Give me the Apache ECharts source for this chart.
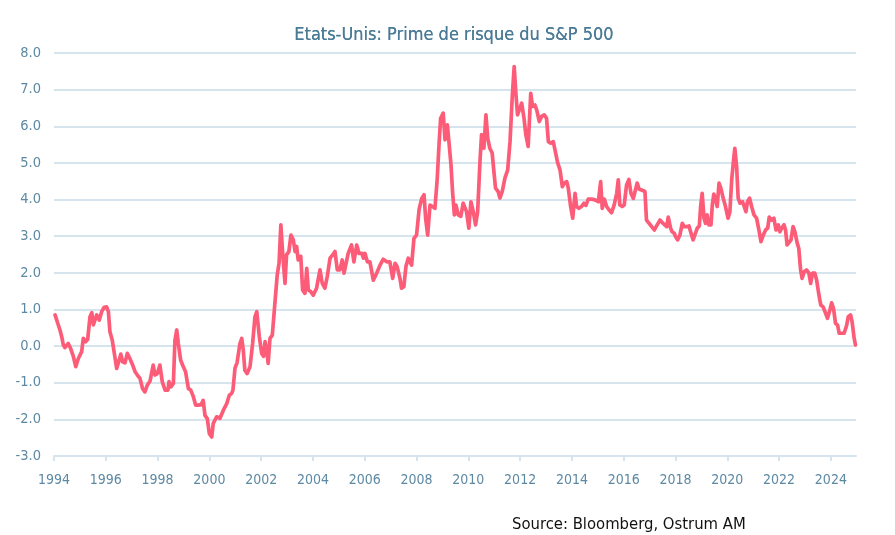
<!DOCTYPE html>
<html>
<head>
<meta charset="utf-8">
<script src="https://cdn.jsdelivr.net/npm/echarts@6/dist/echarts.min.js"></script>
<style>
html,body{margin:0;padding:0;background:#fff;}
#chart{width:895px;height:535px;}
</style>
</head>
<body>
<div id="chart"></div>
<script>
var titleText = "Etats-Unis: Prime de risque du S&P 500";
var sourceText = "Source: Bloomberg, Ostrum AM";
var yearTicks = [1994,1996,1998,2000,2002,2004,2006,2008,2010,2012,2014,2016,2018,2020,2022,2024];
var yTicks = [-3,-2,-1,0,1,2,3,4,5,6,7,8];

var dates = [
1994.04,1994.10,1994.17,1994.23,1994.30,1994.36,1994.42,1994.55,1994.64,1994.75,1994.84,1994.94,
1995.07,1995.13,1995.22,1995.30,1995.39,1995.46,1995.52,1995.65,1995.75,1995.84,1995.94,
1996.03,1996.10,1996.16,1996.25,1996.33,1996.42,1996.48,1996.58,1996.65,1996.74,1996.83,1996.93,
1997.04,1997.13,1997.22,1997.32,1997.42,1997.51,1997.60,1997.71,1997.77,1997.83,1997.90,1997.99,
1998.09,1998.18,1998.29,1998.40,1998.44,1998.52,1998.61,1998.67,1998.74,1998.80,1998.89,1998.99,
1999.08,1999.19,1999.28,1999.38,1999.47,1999.57,1999.68,1999.76,1999.83,1999.92,
2000.00,2000.09,2000.15,2000.28,2000.41,2000.54,2000.67,2000.77,2000.86,2000.91,2000.99,
2001.07,2001.12,2001.18,2001.25,2001.31,2001.37,2001.46,2001.57,2001.67,2001.76,2001.83,2001.93,
2002.02,2002.09,2002.15,2002.21,2002.27,2002.34,2002.43,2002.53,2002.62,2002.69,2002.76,2002.83,2002.92,2002.98,
2003.07,2003.15,2003.24,2003.31,2003.37,2003.43,2003.53,2003.60,2003.69,2003.76,2003.82,2003.91,
2004.01,2004.14,2004.27,2004.36,2004.46,2004.55,2004.66,2004.76,2004.85,2004.94,
2005.04,2005.13,2005.20,2005.27,2005.36,2005.49,2005.58,2005.69,2005.78,2005.89,2005.95,
2006.01,2006.10,2006.20,2006.33,2006.46,2006.59,2006.71,2006.85,2006.97,
2007.08,2007.17,2007.25,2007.36,2007.42,2007.51,2007.59,2007.68,2007.75,2007.81,2007.90,
2008.00,2008.10,2008.20,2008.29,2008.35,2008.43,2008.52,2008.61,2008.71,2008.80,2008.86,2008.93,
2009.03,2009.10,2009.19,2009.25,2009.33,2009.39,2009.46,2009.52,2009.61,2009.71,2009.80,2009.87,2009.93,
2010.02,2010.10,2010.19,2010.28,2010.36,2010.45,2010.51,2010.60,2010.68,2010.75,2010.83,2010.92,
2011.00,2011.05,2011.15,2011.22,2011.31,2011.41,2011.52,2011.61,2011.70,2011.77,2011.84,2011.90,2011.99,
2012.06,2012.15,2012.22,2012.31,2012.41,2012.48,2012.57,2012.64,2012.74,2012.83,2012.93,
2013.02,2013.09,2013.18,2013.28,2013.34,2013.45,2013.54,2013.63,2013.70,2013.80,2013.86,2013.95,
2014.03,2014.12,2014.18,2014.27,2014.37,2014.46,2014.54,2014.63,2014.76,2014.89,
2015.02,2015.11,2015.17,2015.25,2015.34,2015.43,2015.53,2015.63,2015.73,2015.79,2015.85,2015.94,
2016.02,2016.11,2016.20,2016.28,2016.37,2016.43,2016.52,2016.60,2016.69,2016.75,2016.82,2016.88,2016.98,
2017.08,2017.18,2017.27,2017.40,2017.49,2017.56,2017.66,2017.72,2017.81,2017.87,2017.95,
2018.00,2018.08,2018.17,2018.26,2018.34,2018.43,2018.52,2018.62,2018.68,2018.75,2018.84,2018.92,2018.97,
2019.03,2019.10,2019.16,2019.22,2019.29,2019.37,2019.42,2019.48,2019.55,2019.61,2019.68,2019.75,2019.84,2019.93,
2020.03,2020.10,2020.17,2020.23,2020.29,2020.36,2020.42,2020.49,2020.59,2020.65,2020.72,2020.78,2020.86,2020.94,
2021.03,2021.13,2021.22,2021.30,2021.39,2021.48,2021.56,2021.62,2021.71,2021.80,2021.88,2021.97,
2022.03,2022.10,2022.19,2022.25,2022.31,2022.38,2022.46,2022.54,2022.61,2022.70,2022.76,2022.83,2022.89,2022.97,
2023.06,2023.15,2023.22,2023.29,2023.38,2023.45,2023.54,2023.61,2023.70,2023.80,2023.87,2023.96,
2024.03,2024.10,2024.18,2024.26,2024.32,2024.41,2024.51,2024.61,2024.67,2024.76,2024.82,2024.90,2024.95
];

var values = [
0.85,0.80,0.57,0.44,0.25,0.03,-0.04,0.07,-0.06,-0.29,-0.56,-0.34,
-0.15,0.21,0.12,0.18,0.80,0.91,0.58,0.85,0.71,0.94,1.06,
1.07,0.94,0.39,0.16,-0.20,-0.61,-0.47,-0.22,-0.43,-0.46,-0.20,-0.34,
-0.52,-0.70,-0.79,-0.88,-1.16,-1.25,-1.07,-0.95,-0.93,-0.52,-0.79,-0.75,
-0.52,-0.97,-1.20,-1.20,-0.97,-1.11,-1.02,0.16,0.44,0.07,-0.38,-0.56,
-0.70,-1.16,-1.20,-1.38,-1.61,-1.61,-1.60,-1.48,-1.89,-1.98,
-2.39,-2.48,-2.11,-1.93,-1.97,-1.75,-1.57,-1.34,-1.29,-1.20,-0.60,
-0.45,-0.43,0.07,0.21,-0.11,-0.66,-0.75,-0.56,0.07,0.80,0.94,0.25,
-0.20,-0.28,0.12,-0.10,-0.47,0.21,0.30,1.17,1.94,2.26,3.31,2.53,1.71,2.49,
2.58,3.03,2.90,2.58,2.72,2.35,2.45,1.53,1.44,2.12,1.53,1.49,
1.39,1.58,2.08,1.71,1.58,1.89,2.40,2.49,2.58,2.08,
2.08,2.35,1.99,1.99,2.53,2.76,2.30,2.76,2.53,2.53,2.40,
2.53,2.30,2.30,1.80,1.99,2.21,2.37,2.30,2.30,
1.85,2.26,2.17,1.85,1.58,1.62,2.17,2.40,2.30,2.21,2.94,
3.03,3.74,4.03,4.13,3.49,3.03,3.85,3.81,3.76,4.58,5.40,6.22,
6.36,5.63,6.04,5.58,4.95,4.22,3.58,3.85,3.58,3.54,3.90,3.90,3.67,
3.22,3.94,3.67,3.31,3.67,5.04,5.77,5.40,6.31,5.67,5.40,5.27,
4.67,4.31,4.22,4.04,4.22,4.58,4.81,5.58,6.86,7.63,6.86,6.31,6.49,
6.63,6.22,5.77,5.45,6.90,6.54,6.58,6.45,6.13,6.27,6.31,
6.22,5.58,5.54,5.58,5.54,5.00,4.81,4.35,4.45,4.49,4.31,3.81,
3.49,4.17,3.81,3.76,3.81,3.90,3.84,4.01,4.01,3.99,
3.94,4.49,3.76,4.01,3.81,3.72,3.64,3.85,4.17,4.54,3.85,3.81,
3.85,4.40,4.55,4.17,4.03,3.99,4.45,4.28,4.26,4.22,4.22,3.44,3.35,
3.26,3.17,3.28,3.44,3.37,3.38,3.26,3.52,3.22,3.12,3.08,
2.99,2.90,3.03,3.35,3.26,3.26,3.28,3.03,2.90,2.85,3.22,3.28,3.81,
4.17,3.49,3.35,3.58,3.31,3.31,3.85,4.15,3.99,3.81,4.45,4.31,4.04,3.81,
3.49,3.67,4.54,4.99,5.40,4.90,4.04,3.90,3.94,3.99,3.67,3.94,4.04,3.81,
3.58,3.49,3.17,2.85,3.03,3.17,3.22,3.52,3.44,3.49,3.17,3.31,
3.12,3.22,3.31,3.17,2.76,2.71,2.90,3.26,3.12,2.81,2.67,2.08,1.85,2.03,
2.08,1.99,1.71,1.99,1.99,1.80,1.39,1.12,1.07,0.89,0.76,0.98,
1.18,1.03,0.62,0.57,0.35,0.35,0.35,0.57,0.80,0.85,0.66,0.21,0.03
];

var seriesData = dates.map(function (d, i) { return [d, values[i]]; });

var axisTextColor = '#5d89a3';
var gridColor = '#d6e4ed';
var fontFam = '"DejaVu Sans Condensed", "Liberation Sans Narrow", "Open Sans", sans-serif';

var chart = echarts.init(document.getElementById('chart'), null, {renderer: 'canvas'});
chart.setOption({
  animation: false,
  backgroundColor: '#ffffff',
  title: [
    {
      text: titleText,
      left: 449, top: 21, textAlign: 'center',
      textStyle: {color: '#4a7b96', fontSize: 18, fontWeight: 'normal', fontFamily: fontFam, textShadowColor: '#4a7b96', textShadowBlur: 0.6}
    },
    {
      text: sourceText,
      left: 507, top: 511,
      textStyle: {color: '#111111', fontSize: 16.5, fontWeight: 'normal', fontFamily: fontFam}
    }
  ],
  grid: {left: 54, right: 39, top: 53, bottom: 79, containLabel: false},
  xAxis: [
    {
      type: 'value', min: 1994, max: 2024.97, interval: 2, position: 'bottom',
      axisLine: {show: false}, axisTick: {show: false}, splitLine: {show: false},
      axisLabel: {
        customValues: yearTicks, margin: 17,
        color: axisTextColor, fontSize: 14, fontFamily: fontFam,
        formatter: function (v) { return String(Math.round(v)); }
      }
    },
    {
      type: 'value', min: 1994, max: 2024.97, interval: 2, position: 'bottom',
      axisLine: {show: true, onZero: true, lineStyle: {color: gridColor, width: 2}},
      axisTick: {show: true, customValues: yearTicks, length: 5, inside: false, lineStyle: {color: gridColor, width: 2}},
      axisLabel: {show: false}, splitLine: {show: false}
    }
  ],
  yAxis: {
    type: 'value', min: -3, max: 8, interval: 1,
    axisLine: {show: false}, axisTick: {show: false},
    splitLine: {show: true, lineStyle: {color: gridColor, width: 2}},
    axisLabel: {
      color: axisTextColor, fontSize: 14.5, fontFamily: fontFam, margin: 13,
      formatter: function (v) { return v.toFixed(1); }
    }
  },
  series: [{
    type: 'line', xAxisIndex: 0, yAxisIndex: 0,
    data: seriesData, showSymbol: false, smooth: false,
    lineStyle: {color: '#fd5c79', width: 3.7, join: 'round', cap: 'round'},
    itemStyle: {color: '#fd5c79'}
  }]
});
</script>
</body>
</html>
